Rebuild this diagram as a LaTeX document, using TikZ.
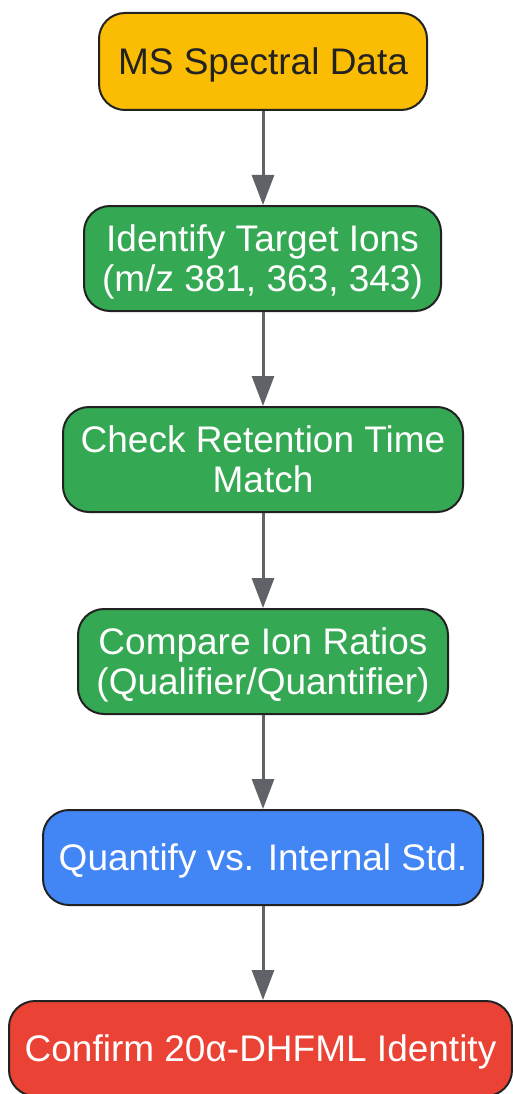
\documentclass[tikz,border=0pt]{standalone}
\usepackage{fontspec}
\setmainfont{Liberation Sans}
\usetikzlibrary{arrows.meta}
\definecolor{cyel}{HTML}{FBBC04}
\definecolor{cgrn}{HTML}{34A853}
\definecolor{cblu}{HTML}{4285F4}
\definecolor{cred}{HTML}{EA4335}
\definecolor{cline}{HTML}{5F6368}
\definecolor{cbord}{HTML}{222222}
\tikzset{
  box/.style={draw=cbord, line width=2pt, rounded corners=26pt, inner sep=0pt,
    align=center, font=\fontsize{37pt}{40pt}\selectfont, text=white,
    text height=26.5pt, text depth=-2pt},
  twoline/.style={text height=66.5pt, text depth=-2pt},
  conn/.style={draw=cline, line width=3pt, -{Triangle[width=22pt,length=30pt]}}
}
\begin{document}
\begin{tikzpicture}[x=1pt,y=-1pt]
\useasboundingbox (0,0) rectangle (513,1094);
\node[box, fill=cyel, text=cbord, minimum width=328pt, minimum height=97pt] (n1) at (263,61.5) {MS Spectral Data};
\node[box, twoline, fill=cgrn, minimum width=357pt, minimum height=105pt] (n2) at (262.5,258.5) {Identify Target Ions\\(m/z 381, 363, 343)};
\node[box, twoline, fill=cgrn, minimum width=400pt, minimum height=105pt] (n3) at (263,459.5) {Check Retention Time\\Match};
\node[box, twoline, fill=cgrn, minimum width=370pt, minimum height=105pt] (n4) at (263,661.5) {Compare Ion Ratios\\(Qualifier/Quantifier)};
\node[box, fill=cblu, minimum width=440pt, minimum height=95pt] (n5) at (263,857.5) {Quantify vs. Internal Std.};
\node[box, fill=cred, minimum width=503pt, minimum height=95pt] (n6) at (260.5,1048.5) {Confirm 20α-DHFML Identity};
\draw[conn] (n1.south) -- (n1.south |- n2.north);
\draw[conn] (n2.south -| n1.south) -- (n1.south |- n3.north);
\draw[conn] (n3.south) -- (n4.north);
\draw[conn] (n4.south) -- (n5.north);
\draw[conn] (n5.south) -- (n5.south |- n6.north);
\end{tikzpicture}
\end{document}
